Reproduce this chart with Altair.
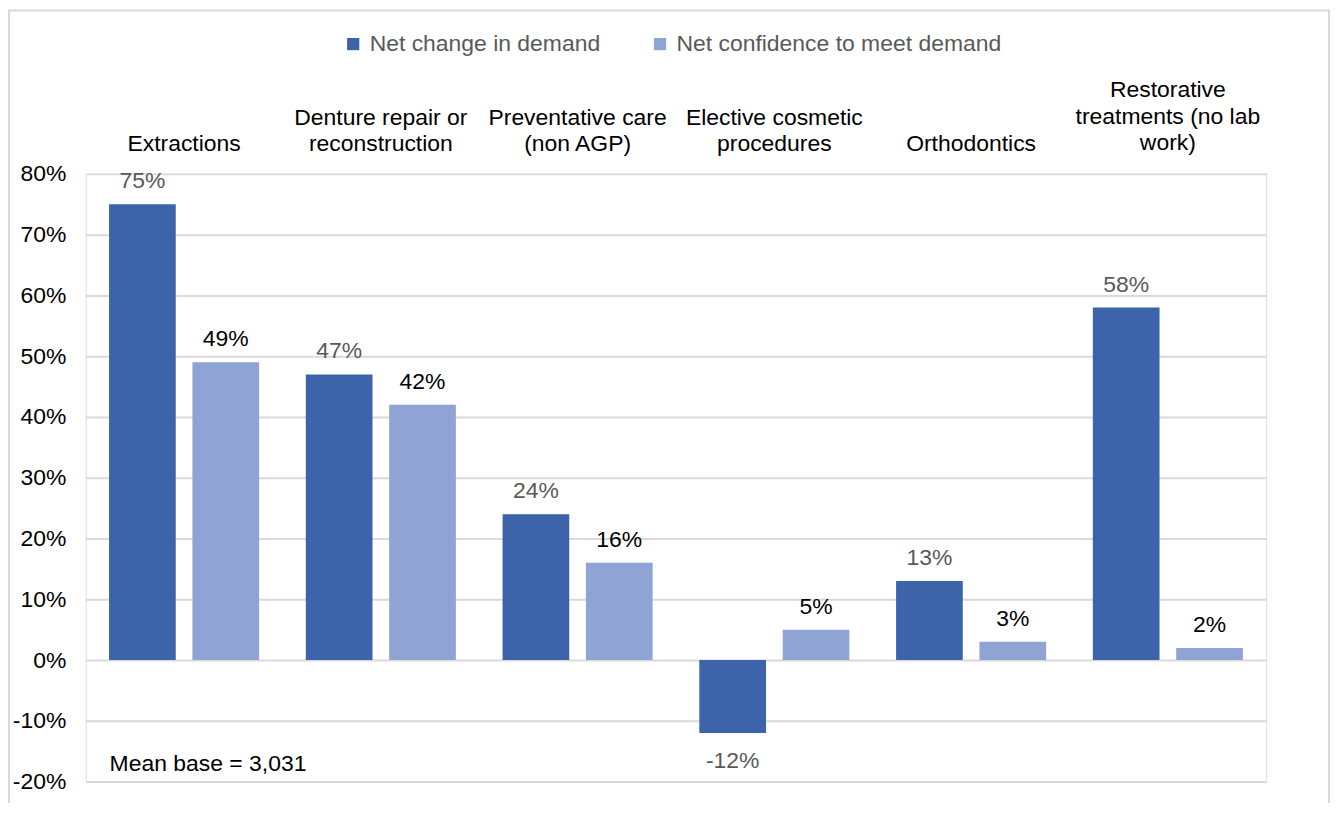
import altair as alt
import pandas as pd

categories = [
    "Extractions",
    "Denture repair or\nreconstruction",
    "Preventative care\n(non AGP)",
    "Elective cosmetic\nprocedures",
    "Orthodontics",
    "Restorative\ntreatments (no lab\nwork)",
]
series = ["Net change in demand", "Net confidence to meet demand"]
demand = [0.75, 0.47, 0.24, -0.12, 0.13, 0.58]
confidence = [0.49, 0.42, 0.16, 0.05, 0.03, 0.02]
y_ticks = [-0.2, -0.1, 0.0, 0.1, 0.2, 0.3, 0.4, 0.5, 0.6, 0.7, 0.8]
note = "Mean base = 3,031"

rows = []
for c, d, f in zip(categories, demand, confidence):
    rows.append({"category": c, "series": series[0], "value": d})
    rows.append({"category": c, "series": series[1], "value": f})
df = pd.DataFrame(rows)

FONT = "Liberation Sans"
FS = 23
W, H = 1185, 610

nlines = "length(split(datum.label, '\\n'))"
label_padding = {
    "condition": [
        {"test": f"{nlines} == 3", "value": 73},
        {"test": f"{nlines} == 2", "value": 45},
    ],
    "value": 18,
}

x_enc = alt.X("category:N", sort=categories,
              scale=alt.Scale(paddingInner=0, paddingOuter=0),
              axis=alt.Axis(orient="top", title=None, domain=False, ticks=False,
                            labelAngle=0, labelFontSize=FS, labelColor="#000000",
                            labelFont=FONT, labelPadding=label_padding,
                            labelLineHeight=27,
                            labelBaseline="bottom", labelLimit=0,
                            labelExpr="split(datum.label, '\\n')"))
xo_enc = alt.XOffset("series:N", sort=series,
                     scale=alt.Scale(paddingInner=0.2, paddingOuter=0.28))
y_enc = alt.Y("value:Q",
              scale=alt.Scale(domain=[-0.2, 0.8], nice=False),
              axis=alt.Axis(values=y_ticks, title=None, domain=False,
                            ticks=False, labelFontSize=FS, labelColor="#000000",
                            labelFont=FONT, labelPadding=20, gridColor="#d9d9d9",
                            gridWidth=2,
                            labelExpr="(datum.value < 0 ? '-' : '') + format(abs(datum.value), '.0%')"))

base = alt.Chart(df).transform_calculate(
    label="(datum.value < 0 ? '-' : '') + format(abs(datum.value), '.0%')"
)

bars = base.mark_bar().encode(
    x=x_enc, xOffset=xo_enc, y=y_enc,
    color=alt.Color("series:N", sort=series,
                    scale=alt.Scale(domain=series, range=["#3D64AB", "#8FA4D5"]),
                    legend=alt.Legend(title=None, orient="none", direction="horizontal",
                                      legendX=257, legendY=-142, labelFontSize=FS,
                                      labelFont=FONT, labelColor="#595959",
                                      labelLimit=0,
                                      symbolType="square", symbolSize=150,
                                      symbolStrokeWidth=0, labelOffset=5,
                                      columnPadding=48)),
)

label_color = alt.condition(alt.datum.series == series[0],
                            alt.value("#595959"), alt.value("#000000"))

pos_labels = base.transform_filter(alt.datum.value >= 0).mark_text(
    baseline="alphabetic", dy=-16, fontSize=FS, font=FONT
).encode(x=x_enc, xOffset=xo_enc, y=y_enc,
         text=alt.Text("label:N"), color=label_color)

neg_labels = base.transform_filter(alt.datum.value < 0).mark_text(
    baseline="alphabetic", dy=35, fontSize=FS, font=FONT
).encode(x=x_enc, xOffset=xo_enc, y=y_enc,
         text=alt.Text("label:N"), color=label_color)

note_text = alt.Chart(pd.DataFrame({"t": [note]})).mark_text(
    align="left", baseline="alphabetic", fontSize=FS, font=FONT, color="#000000"
).encode(text="t:N", x=alt.value(24), y=alt.value(599))

border = alt.Chart(pd.DataFrame({"t": [0]})).mark_rect(
    fill=None, stroke="#d9d9d9", strokeWidth=2
).encode(x=alt.value(-77), x2=alt.value(1248), y=alt.value(-164), y2=alt.value(660))

chart = alt.layer(border, bars, pos_labels, neg_labels, note_text).properties(
    width=W, height=H,
    autosize=alt.AutoSizeParams(type="none"),
    padding={"left": 78, "top": 165, "right": 65, "bottom": 20},
).configure_view(stroke=None).configure(background="white")

chart.save("out.html", embed_options={"renderer": "svg", "actions": False})
